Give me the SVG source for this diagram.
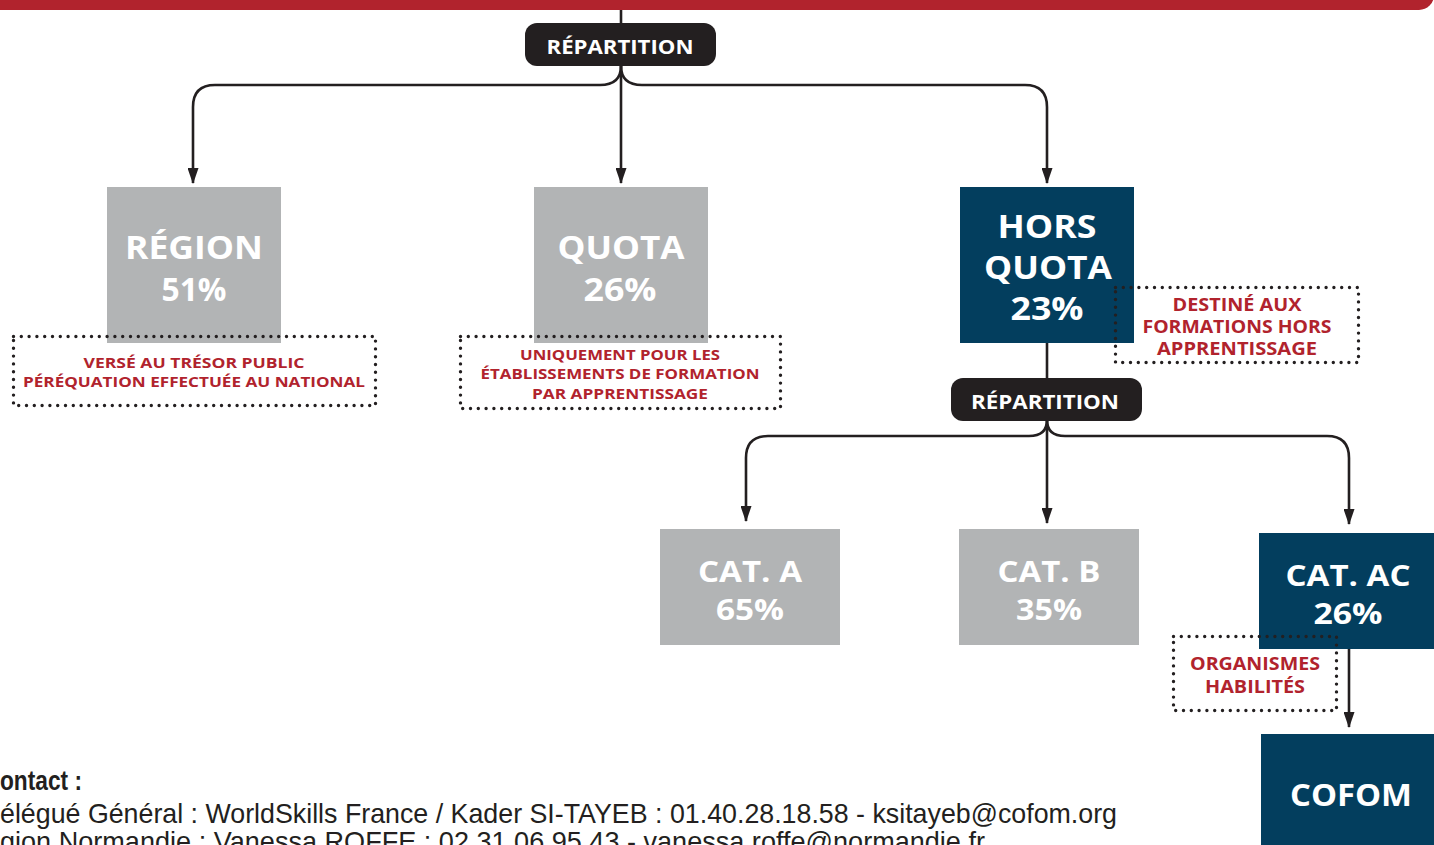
<svg xmlns="http://www.w3.org/2000/svg" width="1434" height="845" viewBox="0 0 1434 845">
<defs>
<marker id="ah" viewBox="0 0 16 11" refX="15" refY="5.5" markerWidth="16" markerHeight="11" orient="auto" markerUnits="userSpaceOnUse">
<path d="M0,0 L16,5.5 L0,11 Z" fill="#231f20"/>
</marker>
<style>
.bg{fill:#ffffff}
.grey{fill:#b2b4b5}
.navy{fill:#033e5e}
.pill{fill:#231f20}
.t{font-family:"Open Sans","Noto Sans","Liberation Sans",sans-serif;font-weight:700;fill:#ffffff;text-anchor:middle}
.n{font-size:33px}
.p{font-size:20px}
.dot{fill:none;stroke:#231f20;stroke-width:3.4;stroke-dasharray:0 7.8;stroke-linecap:round}
.r{font-family:"Open Sans","Noto Sans","Liberation Sans",sans-serif;font-weight:700;fill:#b1232d;text-anchor:middle}
.c{fill:none;stroke:#231f20;stroke-width:2.6}
.ft{font-family:"Liberation Sans",Arial,sans-serif;fill:#231f20;font-size:28px}
</style>
</defs>
<rect class="bg" x="0" y="0" width="1434" height="845"/>
<rect x="-20" y="-20" width="1454" height="30" rx="15" fill="#b1232d"/>

<g id="connectors">
<path class="c" d="M621,10 L621,24"/>
<path class="c" d="M621,66 C621,79 613,85 600,85 L215,85 Q193,85 193,107 L193,183" marker-end="url(#ah)"/>
<path class="c" d="M621,66 L621,183" marker-end="url(#ah)"/>
<path class="c" d="M621,66 C621,79 629,85 642,85 L1025,85 Q1047,85 1047,107 L1047,183" marker-end="url(#ah)"/>
<path class="c" d="M1047,343 L1047,379"/>
<path class="c" d="M1047,420 C1047,431 1040,436 1029,436 L768,436 Q746,436 746,458 L746,521" marker-end="url(#ah)"/>
<path class="c" d="M1047,420 L1047,523" marker-end="url(#ah)"/>
<path class="c" d="M1047,420 C1047,431 1054,436 1065,436 L1327,436 Q1349,436 1349,458 L1349,524" marker-end="url(#ah)"/>
<path class="c" d="M1349,648 L1349,727" marker-end="url(#ah)"/>
</g>

<g id="repartition1">
<rect class="pill" x="525" y="23" width="191" height="43" rx="12"/>
<text class="t p" x="620" y="54" textLength="147" lengthAdjust="spacingAndGlyphs">RÉPARTITION</text>
</g>

<g id="region">
<rect class="grey" x="107" y="187" width="174" height="156"/>
<text class="t n" x="194" y="259" textLength="138" lengthAdjust="spacingAndGlyphs">RÉGION</text>
<text class="t n" x="194" y="301" textLength="65" lengthAdjust="spacingAndGlyphs">51%</text>
</g>

<g id="quota">
<rect class="grey" x="534" y="187" width="174" height="156"/>
<text class="t n" x="621" y="259" textLength="127" lengthAdjust="spacingAndGlyphs">QUOTA</text>
<text class="t n" x="620" y="301" textLength="73" lengthAdjust="spacingAndGlyphs">26%</text>
</g>

<g id="horsquota">
<rect class="navy" x="960" y="187" width="174" height="156"/>
<text class="t n" x="1047" y="238" textLength="99" lengthAdjust="spacingAndGlyphs">HORS</text>
<text class="t n" x="1048" y="279" textLength="128" lengthAdjust="spacingAndGlyphs">QUOTA</text>
<text class="t n" x="1047" y="320" textLength="73" lengthAdjust="spacingAndGlyphs">23%</text>
</g>

<g id="note-region">
<rect class="dot" x="13.5" y="336.5" width="362" height="69"/>
<text class="r" x="194" y="368" font-size="15" textLength="221" lengthAdjust="spacingAndGlyphs">VERSÉ AU TRÉSOR PUBLIC</text>
<text class="r" x="194" y="387" font-size="15" textLength="342" lengthAdjust="spacingAndGlyphs">PÉRÉQUATION EFFECTUÉE AU NATIONAL</text>
</g>

<g id="note-quota">
<rect class="dot" x="460.5" y="336.5" width="320" height="72"/>
<text class="r" x="620" y="360" font-size="15" textLength="200" lengthAdjust="spacingAndGlyphs">UNIQUEMENT POUR LES</text>
<text class="r" x="620" y="379" font-size="15" textLength="279" lengthAdjust="spacingAndGlyphs">ÉTABLISSEMENTS DE FORMATION</text>
<text class="r" x="620" y="399" font-size="15" textLength="176" lengthAdjust="spacingAndGlyphs">PAR APPRENTISSAGE</text>
</g>

<g id="note-hors">
<rect class="dot" x="1115.5" y="287.5" width="243" height="75"/>
<text class="r" x="1237" y="311" font-size="17" textLength="129" lengthAdjust="spacingAndGlyphs">DESTINÉ AUX</text>
<text class="r" x="1237" y="333" font-size="17" textLength="189" lengthAdjust="spacingAndGlyphs">FORMATIONS HORS</text>
<text class="r" x="1237" y="355" font-size="17" textLength="160" lengthAdjust="spacingAndGlyphs">APPRENTISSAGE</text>
</g>

<g id="repartition2">
<rect class="pill" x="951" y="378" width="191" height="43" rx="12"/>
<text class="t p" x="1045" y="409" textLength="148" lengthAdjust="spacingAndGlyphs">RÉPARTITION</text>
</g>

<g id="cat-a">
<rect class="grey" x="660" y="529" width="180" height="116"/>
<text class="t" x="750" y="582" font-size="29" textLength="104" lengthAdjust="spacingAndGlyphs">CAT. A</text>
<text class="t" x="750" y="620" font-size="29" textLength="68" lengthAdjust="spacingAndGlyphs">65%</text>
</g>

<g id="cat-b">
<rect class="grey" x="959" y="529" width="180" height="116"/>
<text class="t" x="1049" y="582" font-size="29" textLength="103" lengthAdjust="spacingAndGlyphs">CAT. B</text>
<text class="t" x="1049" y="620" font-size="29" textLength="66" lengthAdjust="spacingAndGlyphs">35%</text>
</g>

<g id="cat-ac">
<rect class="navy" x="1259" y="533" width="180" height="116"/>
<text class="t" x="1348" y="586" font-size="29" textLength="125" lengthAdjust="spacingAndGlyphs">CAT. AC</text>
<text class="t" x="1348" y="624" font-size="29" textLength="69" lengthAdjust="spacingAndGlyphs">26%</text>
</g>

<g id="note-organismes">
<rect class="dot" x="1173.5" y="636.5" width="163" height="74"/>
<text class="r" x="1255" y="670" font-size="17" textLength="130" lengthAdjust="spacingAndGlyphs">ORGANISMES</text>
<text class="r" x="1255" y="693" font-size="17" textLength="100" lengthAdjust="spacingAndGlyphs">HABILITÉS</text>
</g>

<g id="cofom">
<rect class="navy" x="1261" y="734" width="180" height="120"/>
<text class="t" x="1351" y="806" font-size="31" textLength="122" lengthAdjust="spacingAndGlyphs">COFOM</text>
</g>

<g id="contact">
<text class="ft" x="0" y="790" font-size="26" font-weight="700" textLength="82" lengthAdjust="spacingAndGlyphs">ontact :</text>
<text class="ft" x="0" y="823" textLength="1117" lengthAdjust="spacingAndGlyphs">élégué Général : WorldSkills France / Kader SI-TAYEB : 01.40.28.18.58 - ksitayeb@cofom.org</text>
<text class="ft" x="0" y="851" textLength="985" lengthAdjust="spacingAndGlyphs">gion Normandie : Vanessa ROFFE : 02.31.06.95.43 - vanessa.roffe@normandie.fr</text>
</g>
</svg>
